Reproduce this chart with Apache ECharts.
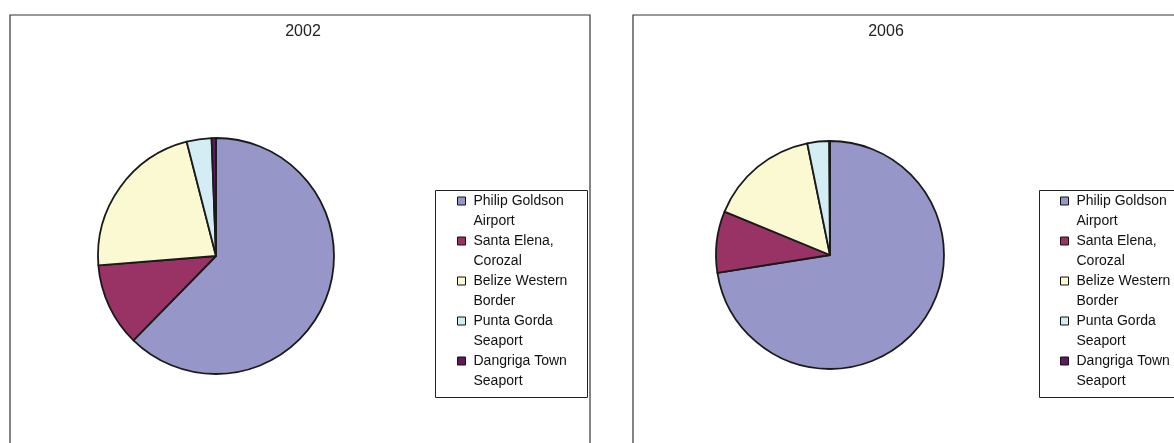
<!DOCTYPE html>
<html>
<head>
<meta charset="utf-8">
<script src="https://cdn.jsdelivr.net/npm/echarts@6/dist/echarts.min.js"></script>
<style>
html,body{margin:0;padding:0;background:#fff;}
#chart{width:1174px;height:443px;}
</style>
</head>
<body>
<div id="chart"></div>
<script>
// Data (percent shares)
var categories = ['Philip Goldson Airport', 'Santa Elena, Corozal', 'Belize Western Border', 'Punta Gorda Seaport', 'Dangriga Town Seaport'];
var legendLabels = ['Philip Goldson\nAirport', 'Santa Elena,\nCorozal', 'Belize Western\nBorder', 'Punta Gorda\nSeaport', 'Dangriga Town\nSeaport'];
var years = ['2002', '2006'];
var values2002 = [62.4, 11.4, 22.3, 3.4, 0.6];
var values2006 = [72.5, 8.7, 15.6, 3.1, 0.1];
var colors = ['#9696C8', '#993366', '#FAF9D2', '#D4ECF4', '#5E1A5E'];

var chart = echarts.init(document.getElementById('chart'), null, {renderer: 'canvas'});

function mkData(vals) {
  return categories.map(function (c, i) { return {name: c, value: vals[i]}; });
}
var labelMap = {};
categories.forEach(function (c, i) { labelMap[c] = legendLabels[i]; });

// legend: first text line is aligned with the marker (leading empty line trick)
function mkLegend(iconLeft, firstLineY) {
  return {
    orient: 'vertical',
    left: iconLeft,
    top: firstLineY - 30,
    data: categories,
    icon: 'rect',
    itemWidth: 8,
    itemHeight: 8,
    itemGap: -20,
    selectedMode: false,
    padding: 0,
    itemStyle: {borderColor: '#111', borderWidth: 1},
    formatter: function (n) { return '\n' + labelMap[n]; },
    textStyle: {
      fontFamily: 'Liberation Sans, Arial, sans-serif',
      fontSize: 14,
      color: '#111',
      lineHeight: 20,
      padding: [0, 0, 0, 3]
    }
  };
}

function mkPie(name, vals, center, r) {
  return {
    type: 'pie',
    name: name,
    center: center,
    radius: [0, r],
    startAngle: 90,
    clockwise: true,
    avoidLabelOverlap: false,
    label: {show: false},
    labelLine: {show: false},
    emphasis: {disabled: true},
    animation: false,
    itemStyle: {borderColor: '#1a1a1a', borderWidth: 1.8},
    data: mkData(vals)
  };
}

var titleText = {fontFamily: 'Liberation Sans, Arial, sans-serif', fontSize: 16, fontWeight: 'normal', color: '#222'};

chart.setOption({
  color: colors,
  animation: false,
  title: [
    {text: years[0], left: 303, top: 24, textAlign: 'center', padding: 0, textStyle: titleText},
    {text: years[1], left: 886, top: 24, textAlign: 'center', padding: 0, textStyle: titleText}
  ],
  graphic: [
    {type: 'rect', z: -10, shape: {x: 10, y: 15, width: 580, height: 500}, style: {fill: '#fff', stroke: '#333', lineWidth: 1.2}},
    {type: 'rect', z: -10, shape: {x: 633, y: 15, width: 600, height: 500}, style: {fill: '#fff', stroke: '#333', lineWidth: 1.2}},
    {type: 'rect', z: -5, shape: {x: 435.5, y: 190.5, width: 152, height: 207}, style: {fill: '#fff', stroke: '#222', lineWidth: 1}},
    {type: 'rect', z: -5, shape: {x: 1039.5, y: 190.5, width: 152, height: 207}, style: {fill: '#fff', stroke: '#222', lineWidth: 1}}
  ],
  legend: [mkLegend(457, 201), mkLegend(1060, 201)],
  series: [
    mkPie(years[0], values2002, [216, 256], 118),
    mkPie(years[1], values2006, [830, 255], 114)
  ]
});
</script>
</body>
</html>
